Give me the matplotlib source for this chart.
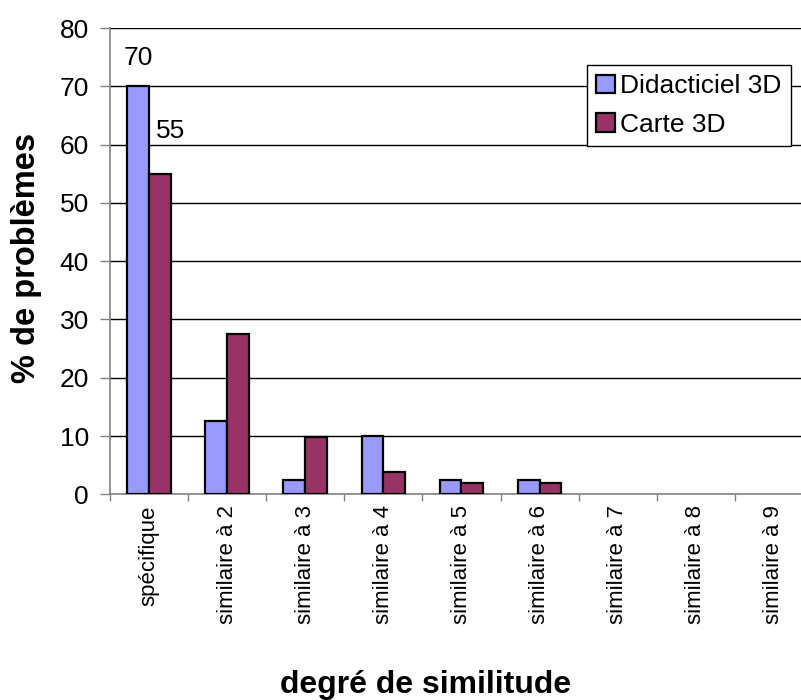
import numpy as np
import matplotlib
matplotlib.use('Agg')
import matplotlib.pyplot as plt
from matplotlib.ticker import FixedLocator, NullFormatter


OUTPUT_FILE = 'out.png'

CATEGORIES = ['spécifique', 'similaire à 2', 'similaire à 3', 'similaire à 4',
              'similaire à 5', 'similaire à 6', 'similaire à 7', 'similaire à 8',
              'similaire à 9']
DIDACTICIEL = [70, 12.5, 2.5, 10, 2.5, 2.5, 0, 0, 0]
CARTE = [55, 27.5, 9.8, 3.9, 2.0, 2.0, 0, 0, 0]
SERIES_NAMES = ['Didacticiel 3D', 'Carte 3D']
Y_TICKS = [0, 10, 20, 30, 40, 50, 60, 70, 80]

BLUE = '#9999FF'
MAROON = '#993366'
GREY = '#808080'

plt.rcParams['font.family'] = ['Liberation Sans', 'DejaVu Sans']

fig = plt.figure(figsize=(8.01, 7.00), dpi=100)
#plot area runs a bit past the right edge of the picture, like the original
ax = fig.add_axes([110 / 801, 1 - 494.3 / 700, 703 / 801, 466.3 / 700])

x = np.arange(len(CATEGORIES))
width = 0.28

#gridlines first so the bars sit on top
for v in Y_TICKS[1:]:
    ax.axhline(v, color='black', linewidth=1.0, zorder=1)

#empty bars get no outline (excel draws nothing for a zero)
lw_a = [1.6 if v > 0 else 0 for v in DIDACTICIEL]
lw_b = [1.6 if v > 0 else 0 for v in CARTE]
ax.bar(x - width / 2, DIDACTICIEL, width, color=BLUE, edgecolor='black',
       linewidth=lw_a, label=SERIES_NAMES[0], zorder=3)
ax.bar(x + width / 2, CARTE, width, color=MAROON, edgecolor='black',
       linewidth=lw_b, label=SERIES_NAMES[1], zorder=3)

#value labels only on the first group
ax.annotate(f'{DIDACTICIEL[0]:g}', (x[0] - width / 2, DIDACTICIEL[0]),
            xytext=(0, 28), textcoords='offset pixels', ha='center', va='center',
            fontsize=19)
ax.annotate(f'{CARTE[0]:g}', (x[0] + width / 2, CARTE[0]),
            xytext=(11, 43), textcoords='offset pixels', ha='center', va='center',
            fontsize=19)

ax.set_xlim(-0.5, len(CATEGORIES) - 0.5)
ax.set_ylim(0, 80)

#spines
for side in ['top', 'right']:
    ax.spines[side].set_visible(False)
ax.spines['left'].set_color(GREY)
ax.spines['bottom'].set_color(GREY)
ax.spines['left'].set_linewidth(1.2)
ax.spines['bottom'].set_linewidth(1.2)

#y axis
ax.set_yticks(Y_TICKS)
ax.tick_params(axis='y', direction='out', length=7.2, width=1.0, color=GREY,
               labelsize=19, pad=8)

#x axis: labels at centres, tick marks between categories
ax.set_xticks(x)
ax.set_xticklabels(CATEGORIES, rotation=90, fontsize=16, va='top', ha='center')
ax.tick_params(axis='x', which='major', length=0, pad=8)
ax.xaxis.set_minor_locator(FixedLocator(np.arange(len(CATEGORIES) + 1) - 0.5))
ax.xaxis.set_minor_formatter(NullFormatter())
ax.tick_params(axis='x', which='minor', direction='out', length=5, width=1.0, color=GREY)

#axis titles
fig.text(27 / 801, 1 - 258 / 700, '% de problèmes', fontsize=23.5, fontweight='bold',
         rotation=90, ha='center', va='center')
fig.text(426 / 801, 1 - 685 / 700, 'degré de similitude', fontsize=23, fontweight='bold',
         ha='center', va='center')

#legend box in the upper right
leg = ax.legend(loc='upper left', bbox_to_anchor=(587 / 801, 1 - 65 / 700),
                bbox_transform=fig.transFigure, fontsize=19, frameon=True,
                fancybox=False, framealpha=1, edgecolor='black',
                handlelength=0.7, handleheight=0.7, handletextpad=0.2,
                borderpad=0.35, labelspacing=0.55, borderaxespad=0)
leg.get_frame().set_linewidth(1.0)
leg.set_zorder(5)

plt.savefig(OUTPUT_FILE, dpi=100)
plt.close()
